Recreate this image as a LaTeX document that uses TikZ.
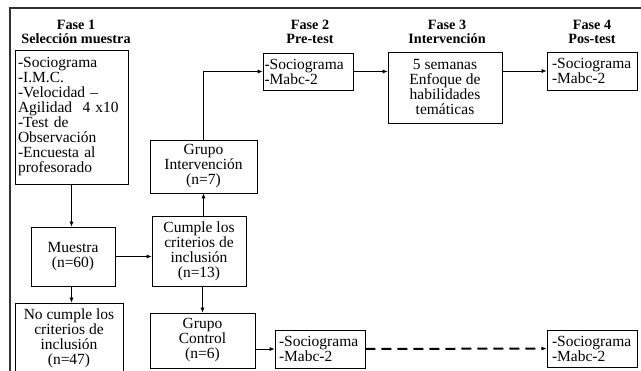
\documentclass[tikz,border=0pt]{standalone}
\usepackage{fontspec}
\setmainfont{Liberation Serif}
\usetikzlibrary{calc}
\usetikzlibrary{arrows, arrows.meta}
\newcommand{\diagfont}{\fontsize{15.5}{15}\selectfont}
\newcommand{\headfont}{\fontsize{14.2}{14.5}\selectfont\bfseries}

\begin{document}
\begin{tikzpicture}[x=1pt, y=-1pt, font=\diagfont,
  box/.style = {draw, line width=0.7pt, inner xsep=3pt, inner ysep=0pt, align=center},
  lbox/.style = {box, align=left},
  head/.style = {align=center, inner sep=0pt, font=\headfont},
  conn/.style = {-{Latex[length=5pt, width=4pt]}, line width=0.7pt}]
  \useasboundingbox (0,0) rectangle (641,371);
  %frame
  \coordinate (fr) at (10,8);
  \draw [line width=1.4pt, black!80] (10,380) -- (fr) -- (650,8);

  %headers
  \node[head] (h1) at (76,32) {Fase 1\\Selección muestra};
  \node[head] (h2) at (310,32) {Fase 2\\Pre-test};
  \node[head] (h3) at (447,32) {Fase 3\\Intervención};
  \node[head] (h4) at (592,32) {Fase 4\\Pos-test};

  %fase 1
  \node[lbox, text width=107pt, minimum height=134pt] (tests) at (71.5,117)
    {-Sociograma\\-I.M.C.\\-Velocidad --\\Agilidad \ 4 x10\\-Test de\\Observación\\-Encuesta al\\profesorado};
  \node[box, minimum width=84pt, minimum height=59pt] (muestra) at (73,256.5) {Muestra\\(n=60)};
  \node[box, minimum width=108pt, minimum height=70pt] (nocumple) at (69,338)
    {No cumple los\\criterios de\\inclusión\\(n=47)};
  \node[box, minimum width=94pt, minimum height=70pt] (cumple) at (199,251)
    {Cumple los\\criterios de\\inclusión\\(n=13)};
  \node[box, minimum width=107pt, minimum height=53pt] (ginter) at (203.5,166.5)
    {Grupo\\Intervención\\(n=7)};
  \node[box, minimum width=105pt, minimum height=55pt] (gcontrol) at (202.5,340.5)
    {Grupo\\Control\\(n=6)};

  %fases 2-4, grupo intervencion
  \node[lbox, inner xsep=1.5pt, text width=87pt, minimum height=37pt] (pre) at (308,71.5)
    {-Sociograma\\-Mabc-2};
  \node[box, minimum width=114pt, minimum height=71pt] (interv) at (445,87.5)
    {5 semanas\\Enfoque de\\habilidades\\temáticas};
  \node[lbox, inner xsep=5pt, text width=80pt, minimum height=38pt] (post) at (592,71)
    {-Sociograma\\-Mabc-2};

  %grupo control
  \node[lbox, inner xsep=4pt, text width=82pt, minimum height=38pt] (ctrlpre) at (320,349)
    {-Sociograma\\-Mabc-2};
  \node[lbox, inner xsep=5pt, text width=80pt, minimum height=37pt] (ctrlpost) at (592,348.5)
    {-Sociograma\\-Mabc-2};

  %linking
  \draw [conn] (tests.south) -- (tests.south |- muestra.north);
  \draw [conn] (tests.south |- muestra.south) -- (tests.south |- nocumple.north);
  \draw [conn] (muestra.east) -- (muestra.east -| cumple.west);
  \draw [conn] (cumple.north -| ginter.south) -- (ginter.south);
  \draw [conn] (cumple.south -| gcontrol.north) -- (gcontrol.north);
  \draw [conn] (ginter.north) |- (pre.west);
  \draw [conn] (pre.east) -- (pre.east -| interv.west);
  \draw [conn] (interv.east |- post.west) -- (post.west);
  \draw [conn] (gcontrol.east |- ctrlpre.west) -- (ctrlpre.west);
  \draw [conn, line width=2pt, dash pattern=on 10pt off 6pt] (ctrlpre.east) -- (ctrlpost.west);
\end{tikzpicture}
\end{document}
